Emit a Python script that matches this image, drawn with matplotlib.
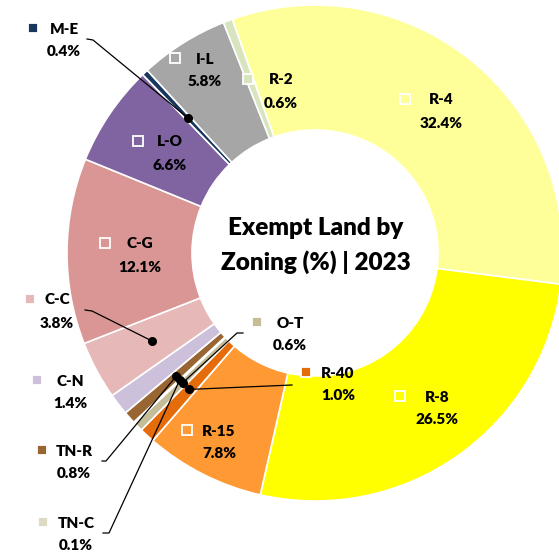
import numpy as np
import matplotlib.pyplot as plt

# Exempt land by zoning, clockwise from the top
zones = ["R-4", "R-8", "R-15", "R-40", "O-T", "TN-C", "TN-R",
         "C-N", "C-C", "C-G", "L-O", "M-E", "I-L", "R-2"]
shares = [32.4, 26.5, 7.8, 1.0, 0.6, 0.1, 0.8,
          1.4, 3.8, 12.1, 6.6, 0.4, 5.8, 0.6]
colors = ["#FFFF99", "#FFFF00", "#FF9933", "#E46C0A", "#C4BD97", "#DDD9C3", "#996633",
          "#CCC0DA", "#E6B9B8", "#D99694", "#8064A2", "#17375E", "#A6A6A6", "#D7E4BD"]

W, H = 559, 553
FONT = "Lato"
WEIGHT = "heavy"

# label layout in pixel coords: (name x, name y, key square x)
label_pos = {
    "R-4": (441, 100, 405), "R-8": (437, 397, 400), "R-15": (219, 431, 187),
    "R-40": (338, 373, 306), "O-T": (290, 323, 257), "TN-C": (76, 523, 43),
    "TN-R": (74, 451, 42), "C-N": (70, 381, 37), "C-C": (57, 300, 30),
    "C-G": (140, 244, 105), "L-O": (170, 142, 138), "M-E": (64, 29, 33),
    "I-L": (205, 59, 175), "R-2": (281, 80, 248),
}
# leader lines: start point and elbow (pixel coords)
leaders = {
    "M-E": [(87, 39), (93, 40)],
    "C-C": [(85, 310), (92, 311)],
    "R-40": [(292, 385)],
    "O-T": [(243, 333), (237, 333)],
    "TN-R": [(102, 461), (106, 461)],
    "TN-C": [(103, 533), (109, 533)],
}

fig = plt.figure(figsize=(W / 100, H / 100), dpi=100)
ax = fig.add_axes([0, 0, 1, 1])

cx, cy, R = 315, H - 253, 248
ring = 125
wedges, _ = ax.pie(shares, colors=colors, startangle=109.5, counterclock=False,
                   center=(cx, cy), radius=R, frame=True,
                   wedgeprops=dict(width=ring, edgecolor="white", linewidth=1.2))
ax.set_xlim(0, W)
ax.set_ylim(0, H)
ax.set_aspect("equal")
ax.axis("off")

for w, name, share, col in zip(wedges, zones, shares, colors):
    x, y, sx = label_pos[name]
    y = H - y
    ax.text(x, y, name, ha="center", va="center", fontsize=11,
            fontweight=WEIGHT, family=FONT, color="black")
    ax.text(x, y - 23, f"{share:.1f}%", ha="center", va="center", fontsize=11,
            fontweight=WEIGHT, family=FONT, color="black")
    ax.plot(sx, y + 1, marker="s", markersize=7, markerfacecolor=col,
            markeredgecolor="white", markeredgewidth=1.3, linestyle="none")
    if name in leaders:
        mid = np.deg2rad((w.theta1 + w.theta2) / 2)
        rm = R - ring / 2
        ex, ey = cx + rm * np.cos(mid), cy + rm * np.sin(mid)
        pts = [(px, H - py) for px, py in leaders[name]] + [(ex, ey)]
        xs, ys = zip(*pts)
        ax.plot(xs, ys, color="black", linewidth=0.9)
        ax.plot(ex, ey, marker="o", markersize=5.5, color="black")

ax.text(cx + 1, H - 228, "Exempt Land by", ha="center", va="center",
        fontsize=17.5, fontweight=WEIGHT, family=FONT)
ax.text(cx + 1, H - 262, "Zoning (%) | 2023", ha="center", va="center",
        fontsize=17.5, fontweight=WEIGHT, family=FONT)

fig.savefig("out.png", dpi=100)
